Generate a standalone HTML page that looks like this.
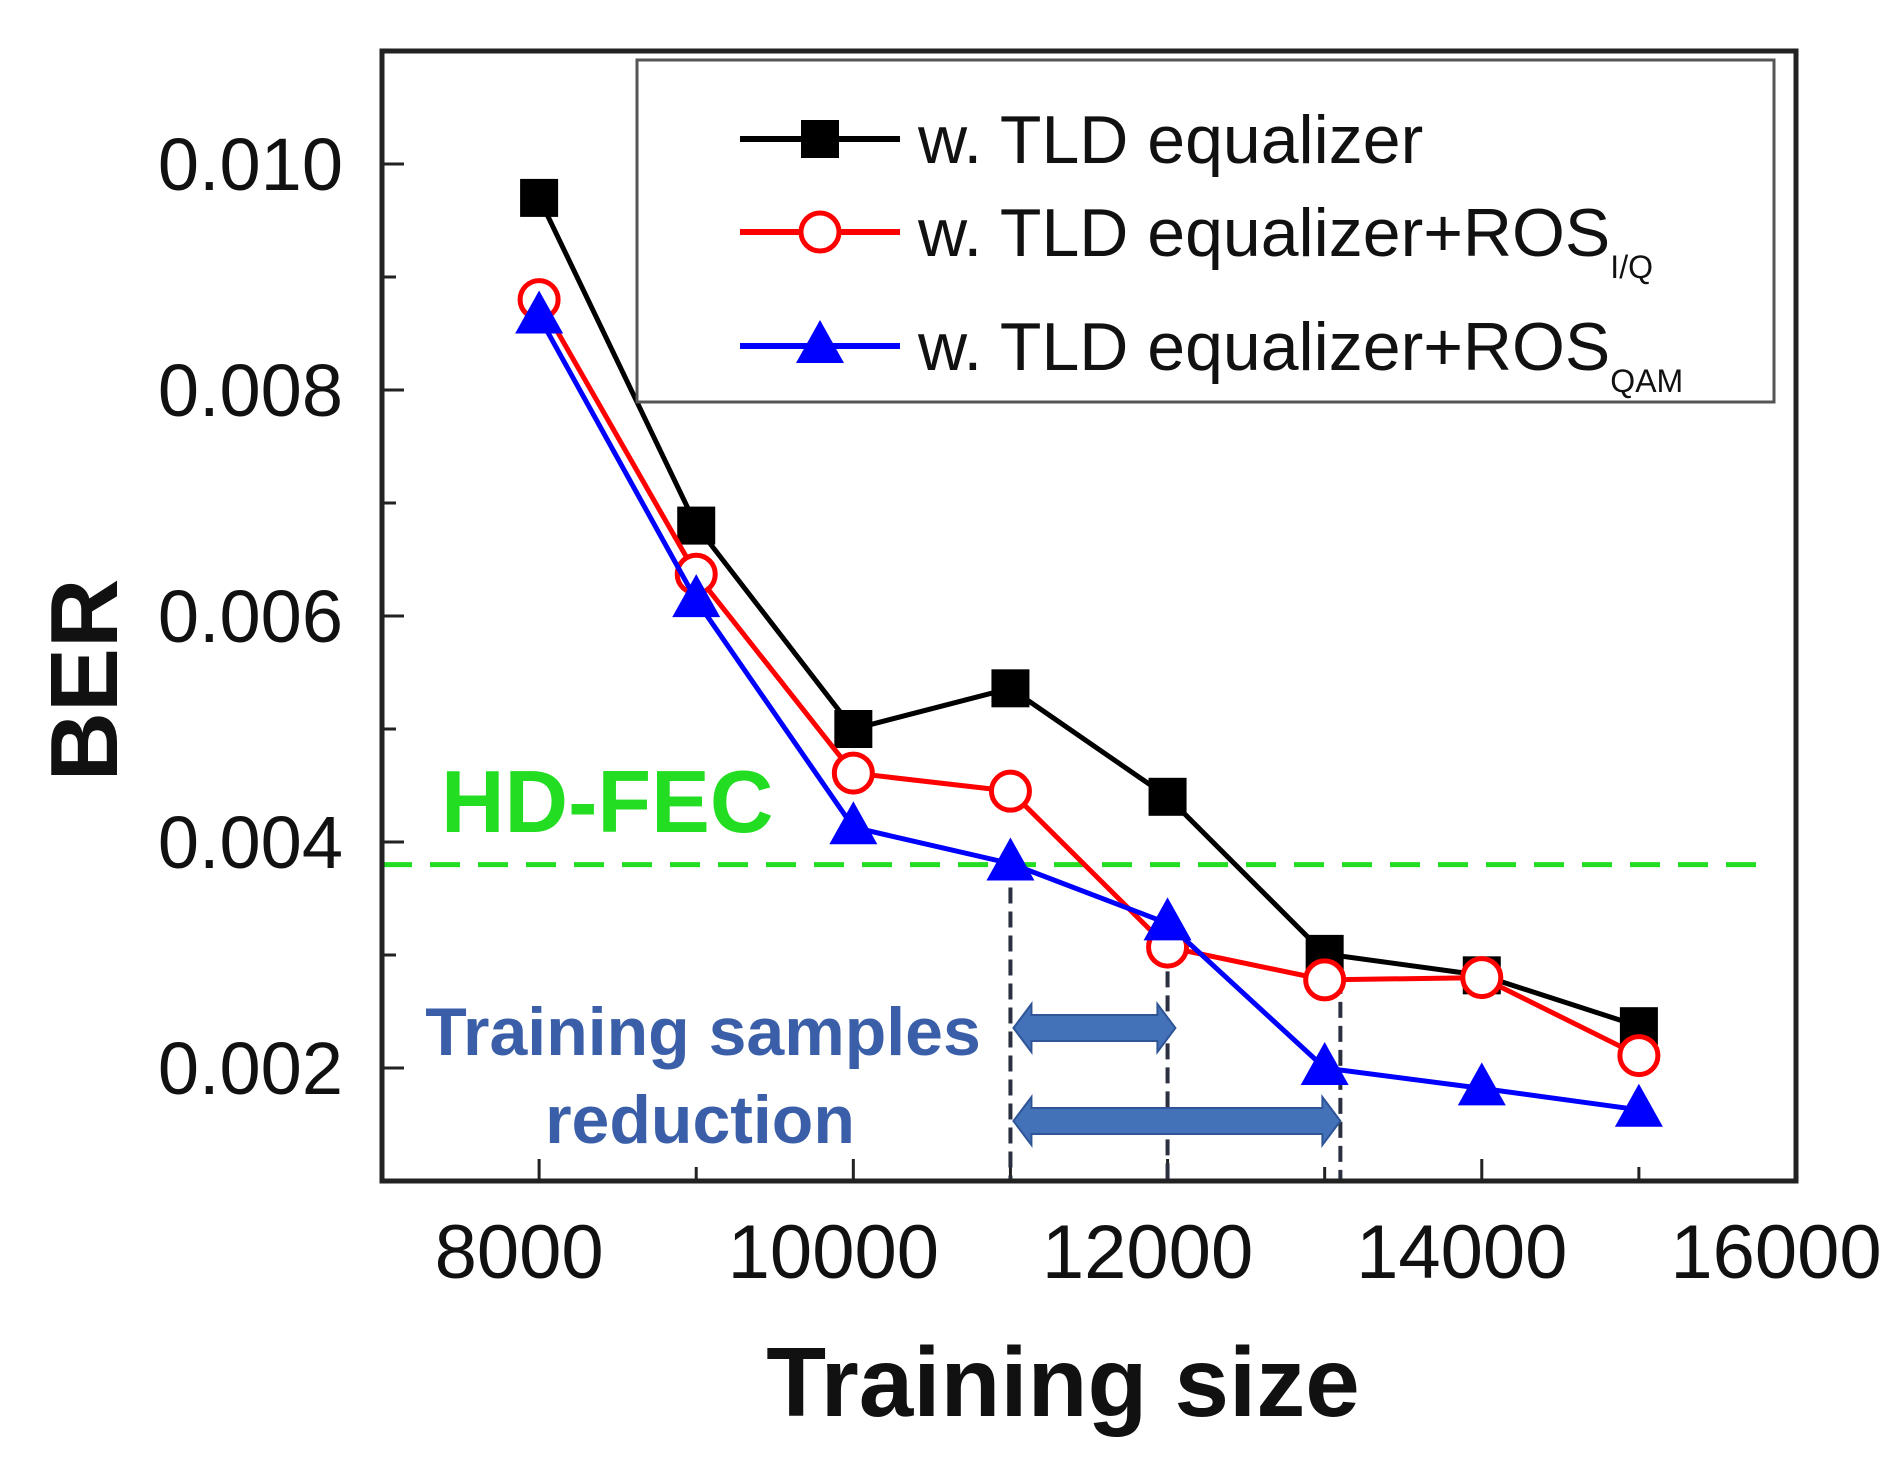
<!DOCTYPE html>
<html><head><meta charset="utf-8"><style>body{margin:0;background:#fff}svg{display:block}</style></head>
<body>
<svg id="chart" width="1895" height="1466" xmlns="http://www.w3.org/2000/svg" font-family="'Liberation Sans', Arial, sans-serif">
<rect width="1895" height="1466" fill="#fff"/>
<g id="plot"></g>
</svg>
<script>
const xCategories=[8000,9000,10000,11000,12000,13000,14000,15000];
const tldValues=[0.0097,0.0068,0.0050,0.00536,0.0044,0.00301,0.00282,0.00237];
const rosIQValues=[0.0088,0.00637,0.00461,0.00445,0.00307,0.00278,0.0028,0.00211];
const rosQAMValues=[0.00865,0.00614,0.00413,0.00381,0.00328,0.0020,0.00182,0.00163];
const xTicks=[8000,10000,12000,14000,16000];
const yTicks=[0.002,0.004,0.006,0.008,0.010];
const hdFec=0.0038;
const L=382,R=1796,T=51,B=1181;
const X=v=>L+(v-7000)/9000*(R-L);
const Y=v=>B-(v-0.001)/0.010*(B-T);
const NS='http://www.w3.org/2000/svg';
const g=document.getElementById('plot');
function mk(t,a,p){const e=document.createElementNS(NS,t);for(const k in a)e.setAttribute(k,a[k]);(p||g).appendChild(e);return e;}
for(let v=7000;v<=16000;v+=1000){const t=mk('line',{x1:X(v),x2:X(v),y1:B,y2:B-(v%2000===0?22:14),stroke:'#222','stroke-width':3});
}
for(let i=1;i<=10;i++){const v=i*0.001;const t=mk('line',{x1:L,x2:L+(i%2===0?22:14),y1:Y(v),y2:Y(v),stroke:'#222','stroke-width':3});
}
xTicks.forEach(v=>{const t=mk('text',{x:X(v)-20,y:1278,'font-size':76,'text-anchor':'middle',fill:'#111'});t.textContent=v;
});
yTicks.forEach(v=>{const t=mk('text',{x:343,y:Y(v)+26,'font-size':74,'text-anchor':'end',fill:'#111'});t.textContent=v.toFixed(3);
});
let e=mk('line',{x1:L,x2:R-40,y1:Y(hdFec),y2:Y(hdFec),stroke:'#22dd22','stroke-width':5,'stroke-dasharray':'30 18'});

e=mk('text',{x:441,y:832,'font-size':88,'font-weight':'bold',fill:'#22dd22'});e.textContent='HD-FEC';

[[11000,rosQAMValues[3]],[12000,rosQAMValues[4]],[13100,tldValues[5]]].forEach(([x,v])=>{const l=mk('line',{x1:X(x),x2:X(x),y1:Y(v),y2:B,stroke:'#2a3040','stroke-width':4,'stroke-dasharray':'16 8'});
});
function arrow(x1,x2,y){const h=24,hw=18;const d=`M${x1} ${y} L${x1+hw} ${y-h} L${x1+hw} ${y-13} L${x2-hw} ${y-13} L${x2-hw} ${y-h} L${x2} ${y} L${x2-hw} ${y+h} L${x2-hw} ${y+13} L${x1+hw} ${y+13} L${x1+hw} ${y+h} Z`;
const a=mk('path',{d,fill:'#4472b8',stroke:'#2f5597','stroke-width':2});}
arrow(X(11000)+3,X(12050),1028);arrow(X(11000)+3,X(13100),1121);
e=mk('text',{x:703,y:1055,'font-size':68,'font-weight':'bold','text-anchor':'middle',fill:'#3a5fa8'});e.textContent='Training samples';

e=mk('text',{x:700,y:1143,'font-size':68,'font-weight':'bold','text-anchor':'middle',fill:'#3a5fa8'});e.textContent='reduction';

function marker(type,x,y,col,p){let m;
if(type==='sq')m=mk('rect',{x:x-19,y:y-19,width:38,height:38,fill:'#000'},p);
else if(type==='circ')m=mk('circle',{cx:x,cy:y,r:19,fill:'#fff',stroke:col,'stroke-width':5},p);
else m=mk('polygon',{points:`${x},${y-26} ${x+24},${y+17} ${x-24},${y+17}`,fill:col},p);return m;}
function series(vals,col,type,name){const pts=vals.map((v,i)=>X(xCategories[i])+','+Y(v)).join(' ');
const l=mk('polyline',{points:pts,fill:'none',stroke:col,'stroke-width':5});
vals.forEach((v,i)=>{const m=marker(type,X(xCategories[i]),Y(v),col);});}
series(tldValues,'#000','sq','tld');
series(rosIQValues,'#ff0000','circ','ros-iq');
series(rosQAMValues,'#0000ff','tri','ros-qam');
e=mk('rect',{x:637,y:60,width:1137,height:342,fill:'#fff',stroke:'#555','stroke-width':3});
[['#000','sq','w. TLD equalizer','',139],['#ff0000','circ','w. TLD equalizer+ROS','I/Q',232],['#0000ff','tri','w. TLD equalizer+ROS','QAM',346]].forEach(([c,t,s,sub,y])=>{
const lg=mk('g',{});
mk('line',{x1:740,x2:900,y1:y,y2:y,stroke:c,'stroke-width':6},lg);marker(t,820,y,c,lg);
const tx=mk('text',{x:918,y:y+24,'font-size':68,fill:'#111'},lg);tx.textContent=s;
if(sub){const ts=document.createElementNS(NS,'tspan');ts.setAttribute('font-size',32);ts.setAttribute('dy',22);ts.textContent=sub;tx.appendChild(ts);}});
e=mk('rect',{x:L,y:T,width:R-L,height:B-T,fill:'none',stroke:'#222','stroke-width':5});
e=mk('text',{x:1063,y:1416,'font-size':98,'font-weight':'bold','text-anchor':'middle',fill:'#111'});e.textContent='Training size';

e=mk('text',{x:0,y:0,'font-size':96,'font-weight':'bold','text-anchor':'middle',fill:'#111',transform:'translate(117,680) rotate(-90)'});e.textContent='BER';

</script>
</body></html>
